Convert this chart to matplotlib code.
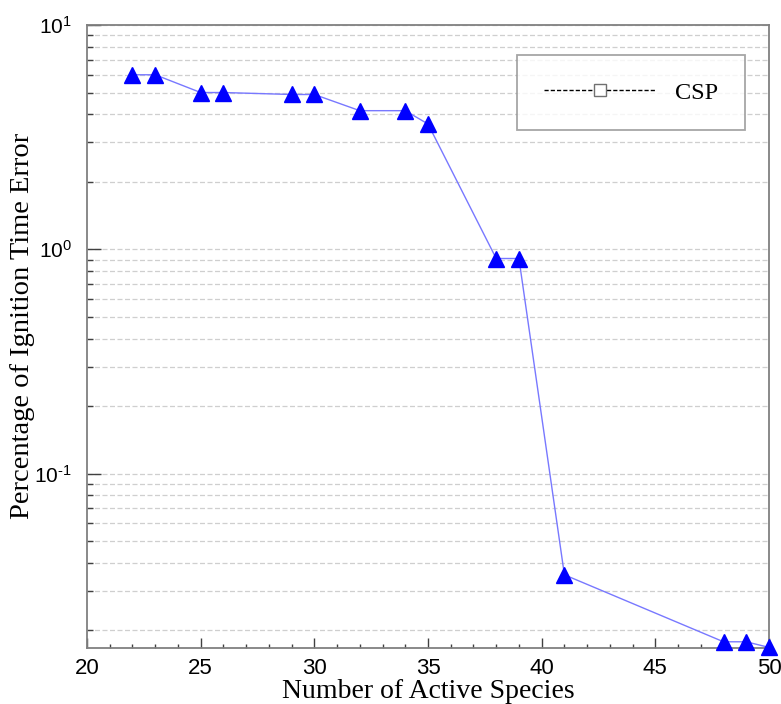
import matplotlib
matplotlib.use("Agg")
import matplotlib.pyplot as plt
from matplotlib.lines import Line2D
from matplotlib.ticker import MultipleLocator, LogLocator, NullFormatter, FuncFormatter
import numpy as np

plt.rcParams['mathtext.fontset'] = 'custom'
plt.rcParams['mathtext.rm'] = 'Liberation Sans'
plt.rcParams['mathtext.it'] = 'Liberation Sans'
plt.rcParams['mathtext.bf'] = 'Liberation Sans'

# active species count vs ignition time error (%)
species = [22, 23, 25, 26, 29, 30, 32, 34, 35, 38, 39, 41, 48, 49, 50]
error = [6.0, 6.0, 5.0, 5.0, 4.9, 4.9, 4.15, 4.15, 3.62, 0.91, 0.91, 0.0354, 0.0178, 0.0178, 0.0168]

serif = 'Liberation Serif'
sans = 'Liberation Sans'
grey = '#808080'


def decade_label(v, pos):
    # 10^n with a short hyphen for negative exponents
    n = int(round(np.log10(v)))
    exp = r'\text{-}%d' % -n if n < 0 else '%d' % n
    return r'$10^{%s}$' % exp


fig = plt.figure(figsize=(7.81, 7.04), dpi=100)
ax = fig.add_axes([87/781, 1 - 648/704, (769 - 87)/781, (648 - 25)/704])

ax.plot(species, error, color='#7878ff', lw=1.0, marker='^', markersize=11.5,
        markerfacecolor='#0000ff', markeredgecolor='#0000ff', clip_on=False, zorder=3)

ax.set_yscale('log')
ax.set_xlim(20, 50)
ax.set_ylim(0.0167, 10)

ax.xaxis.set_major_locator(MultipleLocator(5))
ax.xaxis.set_minor_locator(MultipleLocator(1))
ax.yaxis.set_major_locator(LogLocator(base=10))
ax.yaxis.set_major_formatter(FuncFormatter(decade_label))
ax.yaxis.set_minor_locator(LogLocator(base=10, subs=range(2, 10)))
ax.yaxis.set_minor_formatter(NullFormatter())

ax.grid(True, axis='y', which='both', color='#cfcfcf', linestyle=(0, (4, 2)), lw=0.9)
ax.set_axisbelow(True)

for s in ax.spines.values():
    s.set_color(grey)
    s.set_linewidth(1.3)

ax.tick_params(axis='both', which='both', direction='in', color='#404040', width=1.0)
ax.tick_params(axis='x', which='major', length=7, labelsize=16, pad=7)
ax.tick_params(axis='x', which='minor', length=3)
ax.tick_params(axis='y', which='major', length=10, labelsize=15, pad=11)
ax.tick_params(axis='y', which='minor', length=4)
ax.tick_params(top=False, right=False, which='both')
for lab in ax.get_xticklabels():
    lab.set_family(sans)

ax.set_xlabel('Number of Active Species', family=serif, fontsize=20, va='center')
ax.xaxis.set_label_coords(0.5, -43/623)
ax.set_ylabel('Percentage of Ignition Time Error', family=serif, fontsize=20.5, va='center')
ax.yaxis.set_label_coords(-64/682, 0.517)

handle = Line2D([], [], color='black', lw=1.0, linestyle=(0, (3, 1.5)), marker='s',
                markersize=9, markerfacecolor='white', markeredgecolor='#707070')
leg = ax.legend([handle], ['CSP'], loc='upper right',
                bbox_to_anchor=(745/781, 1 - 55/704), bbox_transform=fig.transFigure,
                prop={'family': serif, 'size': 17.5}, frameon=True, fancybox=False,
                borderaxespad=0, borderpad=1.1, handlelength=4.6, handletextpad=0.8)
leg.get_frame().set_edgecolor('#909090')
leg.get_frame().set_linewidth(1.3)

fig.savefig('out.png', dpi=100)
